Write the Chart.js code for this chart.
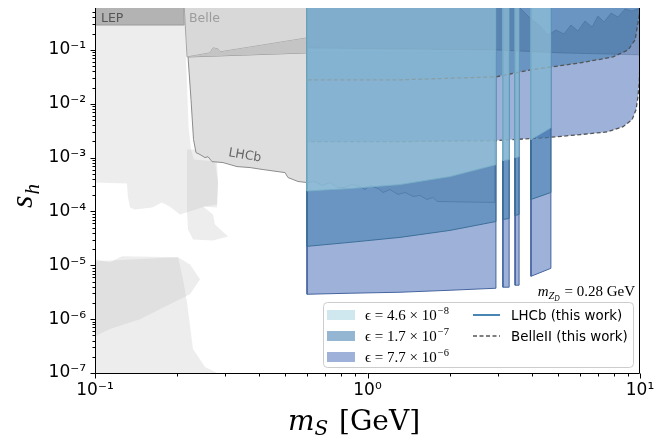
<!DOCTYPE html>
<html lang="en">
<head>
<meta charset="utf-8">
<title>s_h vs m_S</title>
<script src="https://cdn.jsdelivr.net/npm/chart.js@4.4.1/dist/chart.umd.min.js"></script>
<style>
  html, body { margin: 0; padding: 0; background: #fff; }
  #wrap { width: 665px; height: 446px; }
</style>
</head>
<body>
<div id="wrap"><canvas id="chart" width="665" height="446"></canvas></div>
<script>
// axis ranges and ticks
const xMin = 0.1, xMax = 10, yMin = 1e-7, yMax = 0.6;
const xTickValues = [0.1, 1, 10];
const xTickLabels = ['10\u207B\u00B9', '10\u2070', '10\u00B9'];
const yTickValues = [1e-7, 1e-6, 1e-5, 1e-4, 1e-3, 1e-2, 1e-1];
const yTickLabels = ['10\u207B\u2077', '10\u207B\u2076', '10\u207B\u2075', '10\u207B\u2074', '10\u207B\u00B3', '10\u207B\u00B2', '10\u207B\u00B9'];

// older limits (grey), [mS, s_h] outlines
const oldA = [[0.1,0.29],[0.2148,0.29],[0.2157,0.074],[0.2204,0.00375],[0.2251,0.00141],[0.2308,0.000918],[0.2757,0.000843],[0.2828,0.000344],[0.2804,0.000135],[0.2533,0.000124],[0.205,8.8e-5],[0.188,0.000124],[0.176,0.000147],[0.162,0.000119],[0.140,0.000109],[0.1344,0.000119],[0.132,0.00019],[0.131,0.00033],[0.1,0.000344]];
const oldB = [[0.2176,0.00141],[0.2642,0.00141],[0.2804,0.000808],[0.2828,0.000344],[0.2804,0.000119],[0.249,0.000124],[0.271,8.8e-5],[0.2757,5.74e-5],[0.3078,3.44e-5],[0.271,2.9e-5],[0.2289,3.03e-5],[0.2195,4.64e-5],[0.2176,0.0001]];
const oldC = [[0.1,1.29e-5],[0.1135,1.14e-5],[0.1256,1.47e-5],[0.2017,1.41e-5],[0.2232,1.04e-5],[0.2429,5.5e-6],[0.2232,2.9e-6],[0.188,1.9e-6],[0.1463,1e-6],[0.1135,6.53e-7],[0.1,4.8e-7]];
const oldD = [[0.1,1.19e-5],[0.2017,1.41e-5],[0.2103,5.5e-6],[0.2176,2.06e-6],[0.2289,2.78e-7],[0.2533,1.29e-7],[0.2804,1e-7],[0.1,1e-7]];
const lep = [[0.1,1],[0.2115,1],[0.2125,0.29],[0.1,0.29]];
const belle = [[0.2115,1],[0.6,1],[0.6,0.167],[0.2876,0.0918],[0.2828,0.1043],[0.271,0.109],[0.2642,0.088],[0.2176,0.074]];
const overlap = [[0.2176,0.074],[0.2642,0.088],[0.271,0.109],[0.2828,0.1043],[0.2876,0.0918],[0.6,0.167],[0.6,0.088]];
const lhcbOld = [[0.2195,0.074],[0.6,0.088],[2.937,0.088],[2.937,1.47e-4],[1.799,1.53e-4],[1.740,1.82e-4],[1.653,1.67e-4],[1.558,1.98e-4],[1.469,1.90e-4],[1.373,2.25e-4],[1.294,2.07e-4],[1.209,2.55e-4],[1.140,2.25e-4],[1.093,2.67e-4],[1.021,3.03e-4],[0.979,2.55e-4],[0.939,2.90e-4],[0.877,3.16e-4],[0.827,2.78e-4],[0.779,2.78e-4],[0.729,3.44e-4],[0.681,3.03e-4],[0.642,3.60e-4],[0.600,3.44e-4],[0.5559,3.60e-4],[0.5327,3.92e-4],[0.5107,4.27e-4],[0.498,5.27e-4],[0.4137,6.0e-4],[0.3706,6.53e-4],[0.332,6.81e-4],[0.295,8.08e-4],[0.2687,8.43e-4],[0.2598,1.04e-3],[0.2533,1.0e-3],[0.2429,1.14e-3],[0.2348,1.24e-3],[0.2299,2.16e-3],[0.2251,1.19e-2]];

// this work: LHCb reach for the three epsilon values
const lhcbEps1 = [[0.6,1],[0.6,2.4e-4],[0.863,2.67e-4],[1.316,3.16e-4],[2.009,4.45e-4],[2.96,7.4e-4],[2.96,1],[3.14,1],[3.14,8.8e-4],[3.31,9.18e-4],[3.31,1],[3.48,1],[3.48,1.0e-3],[3.60,1.04e-3],[3.60,1],[3.98,1],[3.98,2.16e-3],[4.71,3.6e-3],[4.71,1]];
const lhcbEps2 = [[0.6,1],[0.6,2.25e-5],[0.863,2.67e-5],[1.316,3.3e-5],[2.009,4.45e-5],[2.96,6.5e-5],[2.96,1],[3.14,1],[3.14,7.1e-5],[3.31,7.4e-5],[3.31,1],[3.48,1],[3.48,8.43e-5],[3.60,8.8e-5],[3.60,1],[3.98,1],[3.98,1.67e-4],[4.71,2.25e-4],[4.71,1]];
const lhcbEps3 = [[0.6,1],[0.6,2.9e-6],[0.863,3.03e-6],[1.316,3.16e-6],[2.009,3.44e-6],[2.96,3.75e-6],[2.96,1],[3.14,1],[3.14,3.92e-6],[3.31,3.92e-6],[3.31,1],[3.48,1],[3.48,4.27e-6],[3.60,4.27e-6],[3.60,1],[3.98,1],[3.98,6.26e-6],[4.3,7.3e-6],[4.71,8.8e-6],[4.71,1]];
const lhcbUpper = [[0.6,1],[0.6,0.109],[2.96,0.1],[5.087,0.088],[10,0.081],[10,0.6],[9.35,0.527],[8.81,0.575],[8.30,0.408],[7.83,0.484],[7.38,0.33],[7.01,0.427],[6.67,0.267],[6.28,0.344],[5.92,0.225],[5.58,0.29],[5.26,0.198],[4.92,0.2346],[4.60,0.19],[4.30,0.278],[3.95,0.392],[3.63,0.6],[3.63,1]];
// this work: BelleII reach (dashed)
const belle2Eps2 = [[0.6,1],[0.6,0.0278],[1.316,0.0278],[2.96,0.0316],[3.98,0.0426],[6.024,0.0574],[7.961,0.074],[9.04,0.1],[9.59,0.153],[9.83,0.316],[10,0.55],[10,1]];
const belle2Eps3 = [[0.6,1],[0.6,0.00198],[1.316,0.00198],[2.96,0.00207],[4.557,0.00235],[6.024,0.00267],[7.568,0.0030],[8.664,0.00375],[9.35,0.00506],[9.67,0.00774],[9.83,0.0135],[9.95,0.0278],[10,0.0653],[10,1]];

const epsMantissa = ['4.6', '1.7', '7.7'];
const epsExponent = ['\u22128', '\u22127', '\u22126'];
const epsColors = ['rgba(173,216,230,0.58)', 'rgba(70,130,180,0.58)', 'rgba(60,100,180,0.5)'];
const lineLabels = ['LHCb (this work)', 'BelleII (this work)'];

function region(points, fill, line, width, dash, close) {
  const pts = close ? points.concat([points[0]]) : points;
  return {
    type: 'line',
    data: pts.map(p => ({x: p[0], y: p[1]})),
    fill: 'shape',
    backgroundColor: fill,
    borderColor: line || 'rgba(0,0,0,0)',
    borderWidth: width || 1,
    borderDash: dash || [],
    pointRadius: 0,
    pointHoverRadius: 0,
    tension: 0
  };
}

const dash = [4, 2.5];
// listed bottom to top
const layers = [
  region(oldA, 'rgba(190,190,190,0.28)', null, 0, null, true),
  region(oldB, 'rgba(190,190,190,0.28)', null, 0, null, true),
  region(oldC, 'rgba(190,190,190,0.28)', null, 0, null, true),
  region(oldD, 'rgba(190,190,190,0.28)', null, 0, null, true),
  region(lep, '#b3b3b3', '#9a9a9a', 1, null, true),
  region(lhcbOld, '#dedede', '#8c8c8c', 1, null, true),
  region(belle, '#d8d8d8', '#a6a6a6', 1, null, true),
  region(overlap, '#c4c4c4', null, 0, null, true),
  region(lhcbEps3, epsColors[2], '#45649f', 1),
  region(belle2Eps3, epsColors[2], '#555', 1.3, dash),
  region(lhcbEps2, epsColors[1], '#3c6f98', 1),
  region(belle2Eps2, epsColors[1], '#555', 1.3, dash),
  region(lhcbUpper, 'rgba(40,80,130,0.25)', 'rgba(50,80,120,0.3)', 1),
  region(lhcbEps1, epsColors[0], 'rgba(120,175,200,0.9)', 1)
];
layers.forEach((d, i) => { d.order = -i; });

function tickLabel(values, labels) {
  return v => {
    const i = values.findIndex(t => Math.abs(Math.log10(t) - Math.log10(v)) < 1e-6);
    return i < 0 ? '' : labels[i];
  };
}

const decor = {
  id: 'decor',
  afterDatasetsDraw(chart) {
    const {ctx, chartArea: a, scales: {x, y}} = chart;
    ctx.save();

    // spines (no top one)
    ctx.strokeStyle = '#000';
    ctx.lineWidth = 1;
    ctx.beginPath();
    ctx.moveTo(Math.round(a.left) + 0.5, a.top);
    ctx.lineTo(Math.round(a.left) + 0.5, Math.round(a.bottom) + 0.5);
    ctx.lineTo(Math.round(a.right) - 0.5, Math.round(a.bottom) + 0.5);
    ctx.lineTo(Math.round(a.right) - 0.5, a.top);
    ctx.stroke();

    // tick marks, outward
    ctx.beginPath();
    for (let d = -1; d <= 1; d++) {
      for (let k = 1; k <= 9; k++) {
        const v = k * Math.pow(10, d);
        if (v < xMin * 0.999 || v > xMax * 1.001) continue;
        const px = Math.round(x.getPixelForValue(v)) + 0.5;
        const len = k === 1 ? 5 : 3;
        ctx.moveTo(px, Math.round(a.bottom) + 0.5);
        ctx.lineTo(px, Math.round(a.bottom) + 0.5 + len);
      }
    }
    for (let d = -7; d <= -1; d++) {
      for (let k = 1; k <= 9; k++) {
        const v = k * Math.pow(10, d);
        if (v < yMin * 0.999 || v > yMax) continue;
        const py = Math.round(y.getPixelForValue(v)) + 0.5;
        const len = k === 1 ? 5 : 3;
        ctx.moveTo(Math.round(a.left) + 0.5, py);
        ctx.lineTo(Math.round(a.left) + 0.5 - len, py);
      }
    }
    ctx.stroke();

    // labels of older limits
    ctx.font = '12.5px "DejaVu Sans"';
    ctx.textBaseline = 'alphabetic';
    ctx.fillStyle = '#555';
    ctx.fillText('LEP', 101, 22);
    ctx.fillStyle = '#9c9c9c';
    ctx.fillText('Belle', 189, 22);
    ctx.save();
    ctx.translate(228, 156);
    ctx.rotate(0.17);
    ctx.fillStyle = '#666';
    ctx.fillText('LHCb', 0, 0);
    ctx.restore();

    // m_ZD annotation
    const serif = '"Liberation Serif", "DejaVu Serif", serif';
    const rest = ' = 0.28 GeV';
    ctx.font = '15px ' + serif;
    const wRest = ctx.measureText(rest).width;
    ctx.font = 'italic 15px ' + serif;
    const wM = ctx.measureText('m').width;
    ctx.font = 'italic 10.5px ' + serif;
    const wZ = ctx.measureText('Z').width;
    ctx.font = 'italic 7.5px ' + serif;
    const wD = ctx.measureText('D').width;
    let tx = 635 - wRest - wD - wZ - wM - 1;
    const by = 296;
    ctx.fillStyle = '#000';
    ctx.font = 'italic 15px ' + serif;
    ctx.fillText('m', tx, by); tx += wM;
    ctx.font = 'italic 10.5px ' + serif;
    ctx.fillText('Z', tx, by + 3); tx += wZ;
    ctx.font = 'italic 7.5px ' + serif;
    ctx.fillText('D', tx, by + 5); tx += wD + 1;
    ctx.font = '15px ' + serif;
    ctx.fillText(rest, tx, by);

    // legend
    const lx = 323, ly = 302, lw = 310, lh = 65;
    ctx.beginPath();
    ctx.roundRect(lx + 0.5, ly + 0.5, lw, lh, 4);
    ctx.fillStyle = 'rgba(255,255,255,0.8)';
    ctx.fill();
    ctx.strokeStyle = '#cccccc';
    ctx.lineWidth = 1;
    ctx.stroke();
    const rows = [315, 336, 357];
    for (let i = 0; i < 3; i++) {
      ctx.fillStyle = epsColors[i];
      ctx.fillRect(327, rows[i] - 5, 28, 10);
      ctx.fillStyle = '#000';
      ctx.font = '15px ' + serif;
      const s = '\u03F5 = ' + epsMantissa[i] + ' \u00D7 10';
      ctx.fillText(s, 365, rows[i] + 5);
      const w = ctx.measureText(s).width;
      ctx.font = '10.5px ' + serif;
      ctx.fillText(epsExponent[i], 365 + w + 1, rows[i] - 1);
    }
    ctx.lineWidth = 2;
    ctx.strokeStyle = '#4a86b3';
    ctx.beginPath(); ctx.moveTo(473, rows[0]); ctx.lineTo(500, rows[0]); ctx.stroke();
    ctx.lineWidth = 1.3;
    ctx.strokeStyle = '#555';
    ctx.setLineDash(dash);
    ctx.beginPath(); ctx.moveTo(473, rows[1]); ctx.lineTo(500, rows[1]); ctx.stroke();
    ctx.setLineDash([]);
    ctx.fillStyle = '#000';
    ctx.font = '13.4px "DejaVu Sans"';
    ctx.fillText(lineLabels[0], 511, rows[0] + 5);
    ctx.fillText(lineLabels[1], 511, rows[1] + 5);

    ctx.restore();
  },
  afterDraw(chart) {
    const {ctx} = chart;
    const serif = '"DejaVu Serif", "Liberation Serif", serif';
    ctx.save();
    ctx.fillStyle = '#000';
    ctx.textBaseline = 'alphabetic';

    // x title: m_S [GeV]
    ctx.font = 'italic 28px ' + serif;
    const wm = ctx.measureText('m').width;
    ctx.font = 'italic 20px ' + serif;
    const ws = ctx.measureText('S').width;
    ctx.font = '28px ' + serif;
    const wg = ctx.measureText(' [GeV]').width;
    let tx = 354 - (wm + ws + wg + 2) / 2;
    const by = 430;
    ctx.font = 'italic 28px ' + serif;
    ctx.fillText('m', tx, by); tx += wm;
    ctx.font = 'italic 20px ' + serif;
    ctx.fillText('S', tx, by + 5); tx += ws + 2;
    ctx.font = '28px ' + serif;
    ctx.fillText(' [GeV]', tx, by);

    // y title: s_h
    ctx.translate(32, 208);
    ctx.rotate(-Math.PI / 2);
    ctx.font = 'italic 32px "Liberation Serif", serif';
    const wsh = ctx.measureText('s').width;
    ctx.fillText('s', 0, 0);
    ctx.font = 'italic 21px "Liberation Serif", serif';
    ctx.fillText('h', wsh + 1, 7);
    ctx.restore();
  }
};

new Chart(document.getElementById('chart'), {
  type: 'scatter',
  data: { datasets: layers },
  options: {
    responsive: false,
    animation: false,
    events: [],
    layout: { padding: { top: 8, right: 25, left: 0, bottom: 0 } },
    plugins: {
      legend: { display: false },
      tooltip: { enabled: false }
    },
    scales: {
      x: {
        type: 'logarithmic',
        min: xMin,
        max: xMax,
        afterBuildTicks: s => { s.ticks = xTickValues.map(v => ({value: v})); },
        afterFit: s => { s.height = 73; s.paddingLeft = 0; s.paddingRight = 0; },
        grid: { display: false, drawTicks: false },
        border: { display: false },
        ticks: {
          autoSkip: false,
          maxRotation: 0,
          padding: 7,
          color: '#000',
          font: { family: 'DejaVu Sans', size: 17 },
          callback: tickLabel(xTickValues, xTickLabels)
        }
      },
      y: {
        type: 'logarithmic',
        min: yMin,
        max: yMax,
        afterBuildTicks: s => { s.ticks = yTickValues.map(v => ({value: v})); },
        afterFit: s => { s.width = 95; s.paddingTop = 0; s.paddingBottom = 0; },
        grid: { display: false, drawTicks: false },
        border: { display: false },
        ticks: {
          autoSkip: false,
          padding: 9,
          color: '#000',
          font: { family: 'DejaVu Sans', size: 17 },
          callback: tickLabel(yTickValues, yTickLabels)
        }
      }
    }
  },
  plugins: [decor]
});
</script>
</body>
</html>
